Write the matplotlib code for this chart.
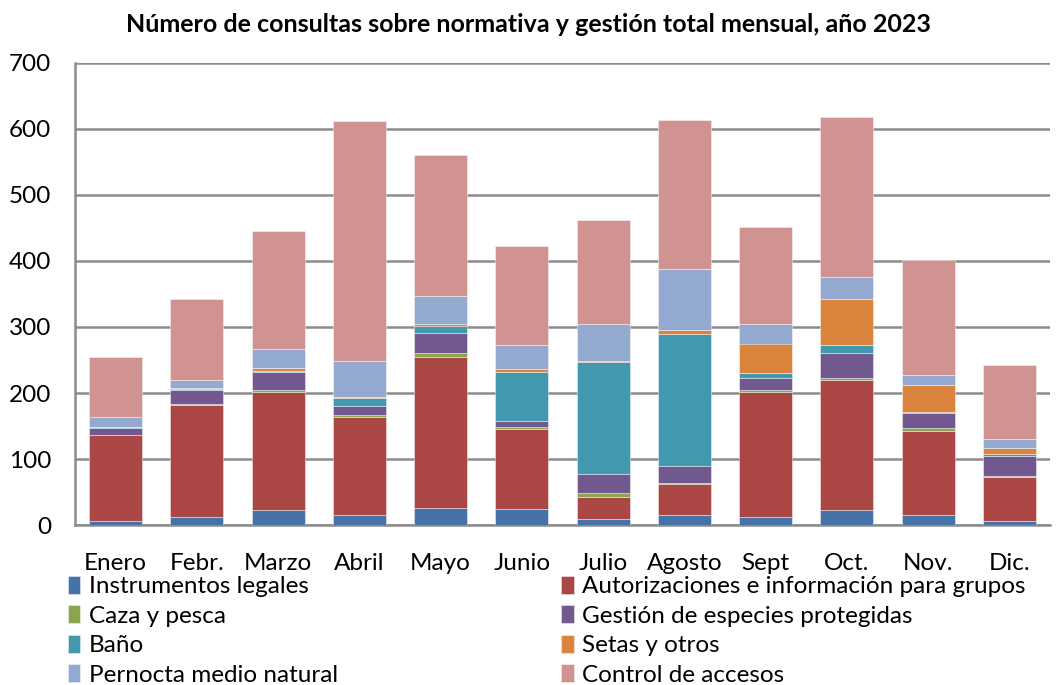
import matplotlib
matplotlib.use("Agg")
import matplotlib.pyplot as plt
import numpy as np

months = ["Enero", "Febr.", "Marzo", "Abril", "Mayo", "Junio", "Julio",
          "Agosto", "Sept", "Oct.", "Nov.", "Dic."]

instrumentos = [6, 12, 23, 15, 26, 24, 9, 15, 12, 23, 15, 6]
autorizaciones = [130, 170, 179, 149, 229, 121, 33, 47, 190, 196, 128, 66]
caza = [1, 1, 3, 3, 5, 3, 6, 1, 3, 3, 4, 3]
gestion = [10, 21, 27, 14, 31, 10, 29, 26, 17, 38, 22, 29]
bano = [1, 2, 2, 12, 11, 74, 170, 201, 9, 13, 2, 4]
setas = [1, 1, 4, 1, 2, 4, 1, 6, 44, 69, 41, 8]
pernocta = [15, 13, 28, 54, 43, 37, 57, 92, 30, 33, 15, 14]
control = [90, 122, 179, 364, 213, 149, 157, 226, 147, 243, 174, 112]

series = [
    ("Instrumentos legales", instrumentos, "#4572A7"),
    ("Autorizaciones e información para grupos", autorizaciones, "#AA4643"),
    ("Caza y pesca", caza, "#89A54E"),
    ("Gestión de especies protegidas", gestion, "#71588F"),
    ("Baño", bano, "#4198AF"),
    ("Setas y otros", setas, "#DB843D"),
    ("Pernocta medio natural", pernocta, "#93A9CF"),
    ("Control de accesos", control, "#D19392"),
]

plt.rcParams['font.family'] = ['Lato', 'DejaVu Sans']

fig = plt.figure(figsize=(10.57, 6.85), dpi=100)
ax = fig.add_axes([75/1057, (685-525)/685, (1050-75)/1057, 462/685])

x = np.arange(len(months))
bottom = np.zeros(len(months))
handles = {}
for name, vals, col in series:
    b = ax.bar(x, vals, width=0.65, bottom=bottom, color=col,
               edgecolor=(1, 1, 1, 0.5), linewidth=0.6, label=name, zorder=3)
    handles[name] = b
    bottom += np.array(vals)

ax.set_xlim(-0.5, len(months) - 0.5)
ax.set_ylim(0, 700)
ax.set_yticks(range(0, 701, 100))
ax.yaxis.grid(True, color="#8c8c8c", linewidth=1.8, zorder=0)
ax.set_axisbelow(True)
for s in ["top", "right"]:
    ax.spines[s].set_visible(False)
ax.spines["left"].set_color("#8c8c8c")
ax.spines["left"].set_linewidth(1.8)
ax.spines["bottom"].set_color("#8c8c8c")
ax.spines["bottom"].set_linewidth(1.8)
ax.tick_params(axis="y", length=0, labelsize=17.5, pad=17)
ax.tick_params(axis="x", length=0, labelsize=17.5, pad=20)
ax.set_xticks(x)
ax.set_xticklabels(months)

fig.text(0.5, 1 - 24/685, "Número de consultas sobre normativa y gestión total mensual, año 2023",
         ha="center", va="center", fontsize=18, fontweight="bold")

order = [0, 2, 4, 6, 1, 3, 5, 7]
hl = [handles[series[i][0]] for i in order]
ll = [series[i][0] for i in order]
fig.legend(hl, ll, ncol=2, loc="upper left", bbox_to_anchor=(68/1057, 1 - 576/685),
           frameon=False, fontsize=17.5, handlelength=0.5, handleheight=0.75,
           handletextpad=0.35, labelspacing=0.33, columnspacing=9.2, borderaxespad=0,
           borderpad=0)

fig.savefig("out.png", dpi=100)
